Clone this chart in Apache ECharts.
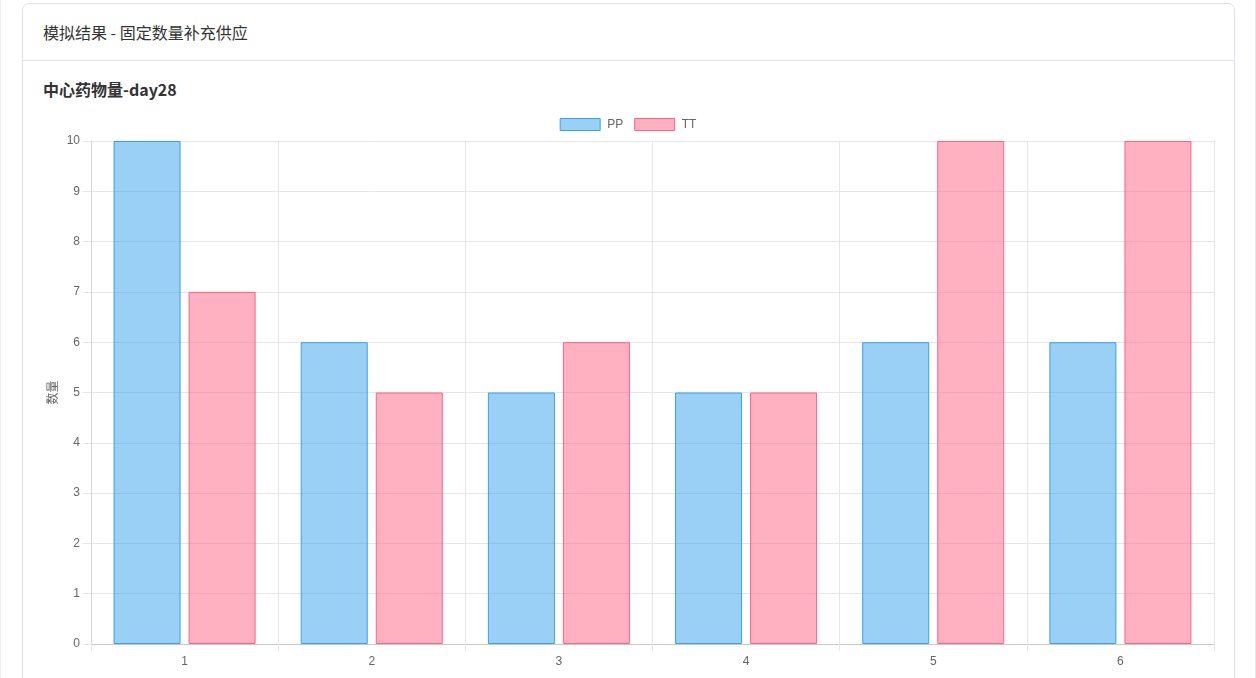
<!DOCTYPE html>
<html>
<head>
<meta charset="utf-8">
<script src="https://cdn.jsdelivr.net/npm/echarts@6/dist/echarts.min.js"></script>
<style>
  html, body { margin: 0; padding: 0; background: #fff; width: 1256px; height: 678px; overflow: hidden; }
  .page { position: absolute; left: 0; top: 0; width: 1254px; height: 700px; border-left: 1px solid #eceef1; border-right: 1px solid #e3e5e8; }
  .card { position: absolute; left: 22px; top: 3px; width: 1211px; height: 720px; border: 1px solid #dee2e6; border-radius: 7px; background: #fff; }
  .card-header { height: 56px; border-bottom: 1px solid #dee2e6; padding-left: 20px; line-height: 56px;
    font-family: "Noto Sans CJK SC", "Noto Sans", sans-serif; font-size: 16px; color: #333; }
  .card-title { position: absolute; left: 20px; top: 70px; line-height: 30px;
    font-family: "Noto Sans CJK SC", "Noto Sans", sans-serif; font-size: 16px; font-weight: bold; color: #333; }
  #chart { position: absolute; left: 0; top: 0; width: 1256px; height: 678px; }
</style>
</head>
<body>
<div class="page"></div>
<div class="card">
  <div class="card-header">模拟结果 - 固定数量补充供应</div>
  <div class="card-title">中心药物量-day28</div>
</div>
<div id="chart"></div>
<script>
// chart data
const days = ['1', '2', '3', '4', '5', '6']
const ppValues = [10, 6, 5, 5, 6, 6]
const ttValues = [7, 5, 6, 5, 10, 10]

const labelFont = '"Liberation Sans", Arial, sans-serif'
const gridColor = '#e6e6e6'

const chart = echarts.init(document.getElementById('chart'), null, { renderer: 'canvas' })

const option = {
  backgroundColor: 'transparent',
  animation: false,
  legend: {
    top: 118,
    left: 'center',
    padding: 0,
    icon: 'rect',
    itemWidth: 40,
    itemHeight: 12,
    itemGap: 11,
    itemStyle: { borderWidth: 1 },
    textStyle: { color: '#666', fontSize: 12, fontFamily: labelFont, padding: [0, 0, 0, 2] },
    data: ['PP', 'TT'],
  },
  grid: {
    left: 91,
    right: 42,
    top: 141,
    bottom: 34,
    containLabel: false,
    outerBoundsMode: 'none',
  },
  xAxis: {
    type: 'category',
    data: days,
    name: '天',
    nameLocation: 'middle',
    nameGap: 38,
    nameMoveOverlap: false,
    nameTextStyle: { color: '#666', fontSize: 12, fontFamily: labelFont },
    axisLine: { show: true, lineStyle: { color: '#c8c8c8' } },
    axisTick: { show: true, length: 7, interval: 0, lineStyle: { color: gridColor } },
    axisLabel: { color: '#666', fontSize: 12, fontFamily: labelFont, margin: 12 },
    splitLine: { show: true, interval: 0, lineStyle: { color: gridColor } },
  },
  yAxis: {
    type: 'value',
    min: 0,
    max: 10,
    interval: 1,
    name: '数量',
    nameLocation: 'middle',
    nameGap: 33,
    nameMoveOverlap: false,
    nameTextStyle: { color: '#666', fontSize: 12, fontFamily: '"Noto Sans CJK SC", sans-serif' },
    axisLine: { show: true, lineStyle: { color: '#d6d6d6' } },
    axisTick: { show: true, length: 8, lineStyle: { color: gridColor } },
    axisLabel: { color: '#666', fontSize: 12, fontFamily: labelFont, margin: 11 },
    splitLine: { show: true, lineStyle: { color: gridColor } },
  },
  series: [
    {
      name: 'PP',
      type: 'bar',
      data: ppValues,
      barWidth: 67,
      barGap: '12%',
      itemStyle: { color: 'rgba(54, 162, 235, 0.5)', borderColor: 'rgb(54, 162, 235)', borderWidth: 1 },
    },
    {
      name: 'TT',
      type: 'bar',
      data: ttValues,
      barWidth: 67,
      barGap: '12%',
      itemStyle: { color: 'rgba(255, 99, 132, 0.5)', borderColor: 'rgb(255, 99, 132)', borderWidth: 1 },
    },
  ],
}

chart.setOption(option)
</script>
</body>
</html>
